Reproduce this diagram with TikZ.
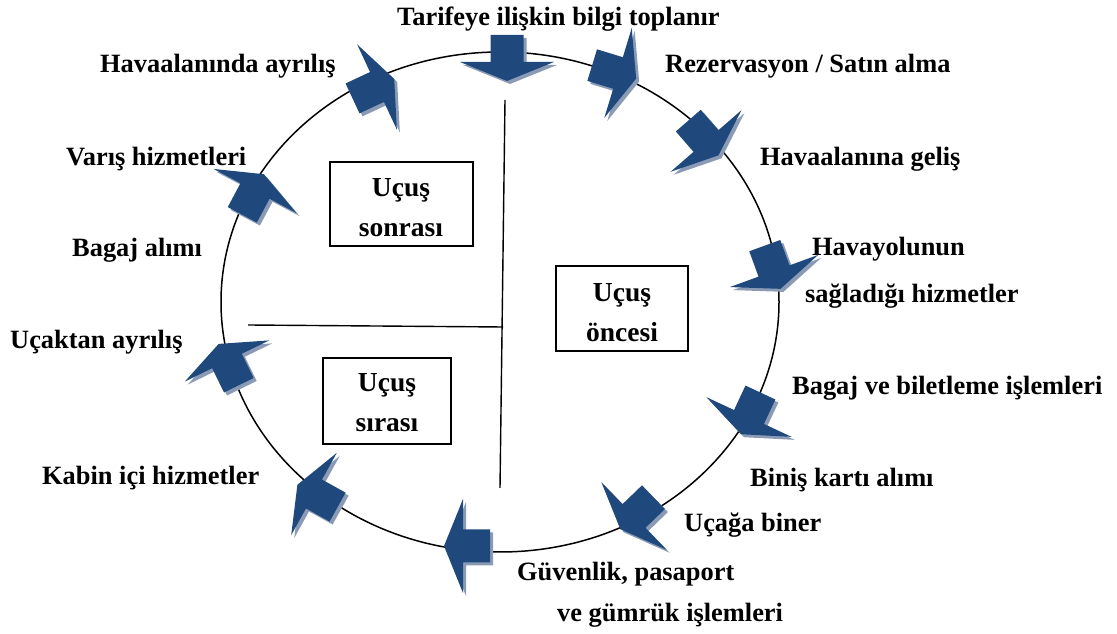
\documentclass[tikz,border=0pt]{standalone}
\usepackage{fontspec}
\setmainfont{Liberation Serif}
\definecolor{arrowblue}{HTML}{1F497D}
\definecolor{arrowshade}{HTML}{8B9BB5}
% block arrow pointing along +x, base of the head at the origin
\newcommand\arrowoutline{(-27,-16.5) -- (0,-16.5) -- (0,-47) -- (19,0) -- (0,47) -- (0,16.5) -- (-27,16.5) -- cycle}
% #1 = x, #2 = y of the head base, #3 = direction
\newcommand\stagearrow[3]{%
  \begin{scope}[shift={(#1+3,#2-3)},rotate=#3]
    \fill[arrowshade] \arrowoutline;
  \end{scope}
  \begin{scope}[shift={(#1,#2)},rotate=#3]
    \fill[arrowblue] \arrowoutline;
  \end{scope}}
\begin{document}
\begin{tikzpicture}[x=1pt,y=1pt,
  lbl/.style={inner sep=0pt,font=\fontsize{26.4}{30}\selectfont\bfseries},
  boxlbl/.style={inner sep=0pt,anchor=base,font=\fontsize{27.5}{31}\selectfont\bfseries},
  phasebox/.style={line width=1.3pt},
  ring/.style={line width=1.5pt},
  divider/.style={line width=1.4pt}]
\useasboundingbox (0,0) rectangle (1117,634);

% cycle outline
\draw[ring] (500,332) ellipse [x radius=279, y radius=250];

% dividers between phases
\coordinate (vtop) at (505,534);
\coordinate (vbot) at (500,146);
\coordinate (hleft) at (248,309);
\coordinate (hright) at (503,307);
\draw[divider] (vtop) -- (vbot);
\draw[divider] (hleft) -- (hright);

% phase boxes
\draw[phasebox] (330,388) rectangle (473,472);
\draw[phasebox] (556,283) rectangle (688,368);
\draw[phasebox] (323,190) rectangle (451,276);
\node[boxlbl] (after1) at (401,437) {Uçuş};
\node[boxlbl] (after2) at (401,397) {sonrası};
\node[boxlbl] (before1) at (622,332) {Uçuş};
\node[boxlbl] (before2) at (622,292) {öncesi};
\node[boxlbl] (during1) at (387,242) {Uçuş};
\node[boxlbl] (during2) at (387,202) {sırası};

% stage arrows around the cycle
\stagearrow{507}{572}{-90}
\stagearrow{618}{561}{-17}
\stagearrow{706}{493}{-49}
\stagearrow{774}{363}{-70}
\stagearrow{749}{217}{-115}
\stagearrow{634}{118}{-136}
\stagearrow{463}{88}{180}
\stagearrow{314}{140}{151}
\stagearrow{227}{273}{116}
\stagearrow{255}{443}{62}
\stagearrow{377}{547}{25}

% stage labels
\node[lbl,anchor=base west] (s1) at (397,608) {Tarifeye ilişkin bilgi toplanır};
\node[lbl,anchor=base west] (s2) at (665,561) {Rezervasyon / Satın alma};
\node[lbl,anchor=base west] (s3) at (760,468) {Havaalanına geliş};
\node[lbl,anchor=base west] (s4a) at (812,378) {Havayolunun};
\node[lbl,anchor=base west] (s4b) at (805,331) {sağladığı hizmetler};
\node[lbl,anchor=base west] (s5) at (792,239) {Bagaj ve biletleme işlemleri};
\node[lbl,anchor=base west] (s6) at (750,147) {Biniş kartı alımı};
\node[lbl,anchor=base west] (s7) at (684,102) {Uçağa biner};
\node[lbl,anchor=base west] (s8a) at (517,53) {Güvenlik, pasaport};
\node[lbl,anchor=base west] (s8b) at (557,12) {ve gümrük işlemleri};
\node[lbl,anchor=base west] (s9) at (42,149) {Kabin içi hizmetler};
\node[lbl,anchor=base west] (s10) at (10,285) {Uçaktan ayrılış};
\node[lbl,anchor=base west] (s11) at (72,377) {Bagaj alımı};
\node[lbl,anchor=base west] (s12) at (66,468) {Varış hizmetleri};
\node[lbl,anchor=base west] (s13) at (100,561) {Havaalanında ayrılış};
\end{tikzpicture}
\end{document}
